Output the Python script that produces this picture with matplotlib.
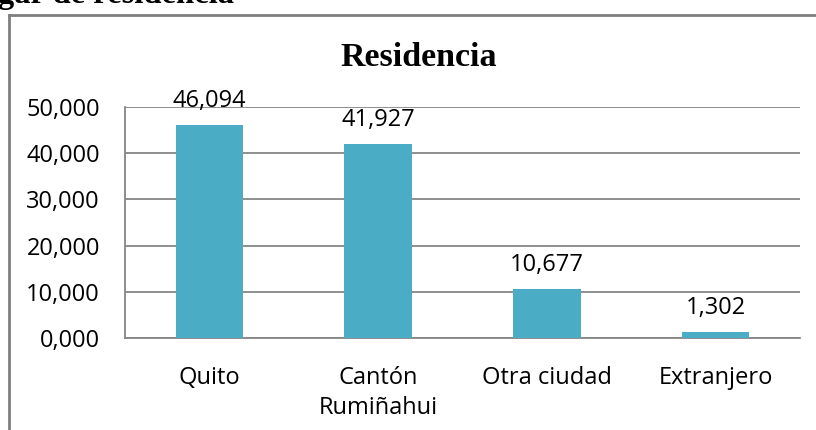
import matplotlib.pyplot as plt
from matplotlib.lines import Line2D

# data (percent, written with comma decimals in the original)
categories = ['Quito', 'Cantón\nRumiñahui', 'Otra ciudad', 'Extranjero']
values = [46.094, 41.927, 10.677, 1.302]
y_ticks = [0, 10, 20, 30, 40, 50]

bar_color = '#4BACC6'
grid_color = '#868686'


def fmt(v):
    return f'{v:.3f}'.replace('.', ',')


fig = plt.figure(figsize=(8.16, 4.30), dpi=100)
ax = fig.add_axes([125 / 816, 1 - 338 / 430, 675 / 816, 231 / 430])

x = range(len(categories))
ax.bar(x, values, width=0.4, color=bar_color, zorder=3)
ax.set_xlim(-0.5, len(categories) - 0.5)
ax.set_ylim(0, 50)

ax.set_yticks(y_ticks)
ax.set_yticklabels([fmt(t) for t in y_ticks], fontsize=17, family='Open Sans')
ax.set_xticks(list(x))
ax.set_xticklabels(categories, fontsize=17, family='Open Sans', linespacing=1.35)
ax.tick_params(axis='both', length=0)
ax.tick_params(axis='y', pad=18)
ax.tick_params(axis='x', pad=20)

ax.yaxis.grid(True, color=grid_color, linewidth=1.3, zorder=0)
for side in ['top', 'right']:
    ax.spines[side].set_visible(False)
for side in ['left', 'bottom']:
    ax.spines[side].set_color(grid_color)
    ax.spines[side].set_linewidth(1.3)

# value labels above the bars
for i, v in enumerate(values):
    ax.annotate(fmt(v), (i, v), xytext=(0, 13), textcoords='offset points',
                ha='center', va='baseline', fontsize=17, family='Open Sans')

# title
fig.text(419 / 816, 1 - 66 / 430, 'Residencia', ha='center', va='baseline',
         fontsize=24.5, fontweight='bold', family='Liberation Serif')

# heading cut off at the top of the picture
fig.text(-42 / 816, 1 - 3 / 430, 'Lugar de residencia', ha='left', va='baseline',
         fontsize=23.5, fontweight='bold', family='Liberation Serif')

# chart frame (runs off the right and bottom edges)
fig.add_artist(Line2D([9 / 816, 9 / 816], [0, 1 - 15 / 430], transform=fig.transFigure,
                      color='#7f7f7f', linewidth=2))
fig.add_artist(Line2D([9 / 816, 1.01], [1 - 15 / 430, 1 - 15 / 430], transform=fig.transFigure,
                      color='#7f7f7f', linewidth=2))

fig.savefig('out.png', dpi=100)
